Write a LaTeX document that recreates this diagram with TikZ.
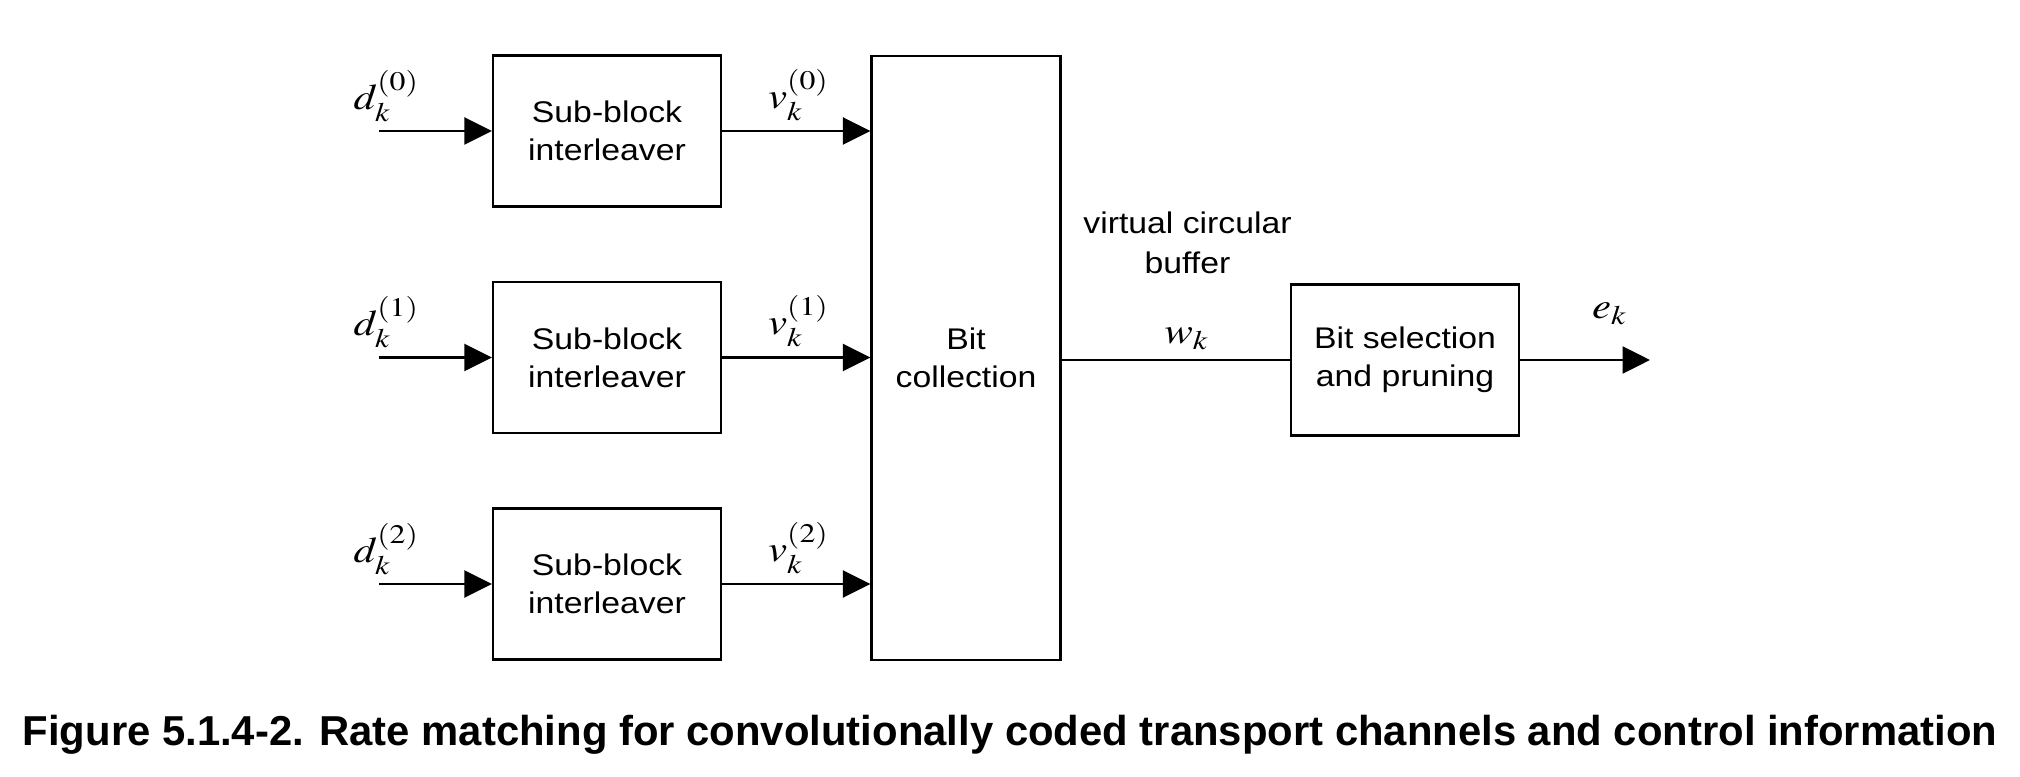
\documentclass[tikz,border=0pt]{standalone}
\usepackage{graphicx}
\usepackage{mathptmx}
\usepackage[no-math]{fontspec}
\setmainfont{Liberation Sans}
\newfontfamily\boxfont[FakeStretch=1.13]{Liberation Sans}
\usetikzlibrary{arrows.meta}
\newcommand{\sig}[1]{\scalebox{1.22}[1.03]{$#1$}}

\begin{document}
\begin{tikzpicture}[
		blk/.style={draw,line width=0.65pt,minimum width=2.28cm,minimum height=1.51cm,align=center,inner sep=0pt,font=\boxfont\fontsize{8.5}{10.9}\selectfont},
		lab/.style={inner sep=0pt,font=\fontsize{10}{12}\selectfont},
		arr/.style={line width=0.7pt,-{Triangle[length=2.75mm,width=2.7mm]}}
	]
		\useasboundingbox (0,0) rectangle (20.2,7.76);
		
		\node[blk] (sbi0) at (6.07,6.45) {Sub-block\\interleaver};
		\node[blk] (sbi1) at (6.07,4.185) {Sub-block\\interleaver};
		\node[blk] (sbi2) at (6.07,1.92) {Sub-block\\interleaver};
		\node[blk,minimum width=1.89cm,minimum height=6.04cm] (bitcol) at (9.66,4.18) {Bit\\collection};
		\node[blk] (bitsel) at (14.05,4.16) {Bit selection\\and pruning};
		
		\coordinate (in0) at (3.79,6.45);
		\coordinate (in1) at (3.79,4.185);
		\coordinate (in2) at (3.79,1.92);
		\coordinate (out) at (16.50,4.16);
		
		\draw[arr] (in0) -- (sbi0);
		\draw[arr] (in1) -- (sbi1);
		\draw[arr] (in2) -- (sbi2);
		\draw[arr] (sbi0) -- (sbi0 -| bitcol.west);
		\draw[arr] (sbi1) -- (sbi1 -| bitcol.west);
		\draw[arr] (sbi2) -- (sbi2 -| bitcol.west);
		\draw[line width=0.7pt] (bitcol.east |- bitsel.west) -- (bitsel.west);
		\draw[arr] (bitsel) -- (out);
		
		\node[lab,anchor=south west] (d0) at (3.53,6.54) {\sig{d_k^{(0)}}};
		\node[lab,anchor=south west] (d1) at (3.53,4.275) {\sig{d_k^{(1)}}};
		\node[lab,anchor=south west] (d2) at (3.53,2.01) {\sig{d_k^{(2)}}};
		\node[lab,anchor=south] (v0) at (7.99,6.55) {\sig{v_k^{(0)}}};
		\node[lab,anchor=south] (v1) at (7.99,4.285) {\sig{v_k^{(1)}}};
		\node[lab,anchor=south] (v2) at (7.99,2.02) {\sig{v_k^{(2)}}};
		\node[lab,anchor=south] (w) at (11.87,4.26) {\sig{w_k}};
		\node[lab,anchor=south] (e) at (16.10,4.51) {\sig{e_k}};
		\node[inner sep=0pt,align=center,font=\boxfont\fontsize{8.5}{11.5}\selectfont] (vcb) at (11.875,5.33) {virtual circular\\buffer};
		
		\node[anchor=base,font=\bfseries\fontsize{11.9}{14}\selectfont] (cap) at (10.10,0.31) {Figure 5.1.4-2. Rate matching for convolutionally coded transport channels and control information};
	\end{tikzpicture}
\end{document}
